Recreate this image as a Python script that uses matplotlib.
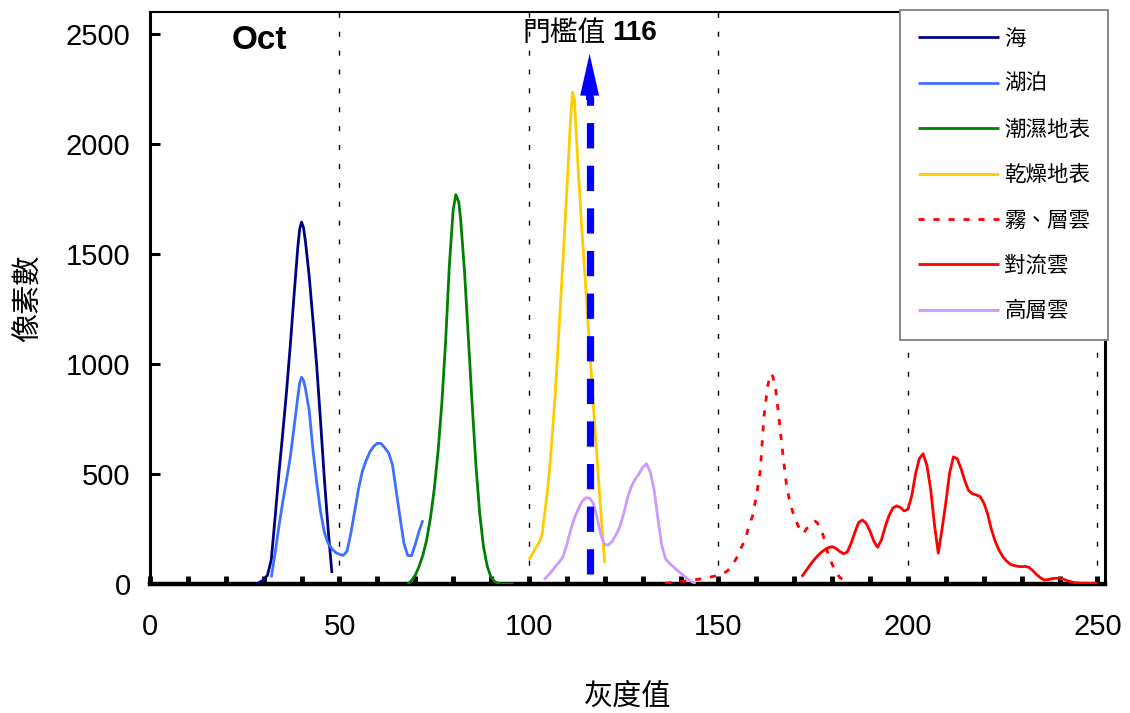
import matplotlib
matplotlib.use("Agg")
import matplotlib.pyplot as plt

plt.rcParams['font.family'] = ['Liberation Sans', 'Noto Sans CJK TC', 'DejaVu Sans']

# ---------------- data ----------------
sea_x = [28, 29, 30, 31, 32, 33, 34, 35, 36, 37, 38, 39, 39.5, 40, 40.5, 41, 42, 43, 44, 45, 46, 47, 48]
sea_y = [0, 8, 20, 40, 110, 300, 500, 680, 870, 1080, 1310, 1530, 1615, 1645, 1620, 1560, 1400, 1200, 990, 740, 480, 250, 50]

lake_x = [32, 33, 34, 35, 36, 37, 38, 39, 39.5, 40, 40.5, 41, 42, 43, 44, 45, 46, 47, 48, 49, 50, 51, 52,
          53, 54, 55, 56, 57, 58, 59, 60, 61, 62, 63, 64, 65, 66, 67, 68, 69, 70, 71, 72]
lake_y = [30, 140, 260, 370, 470, 575, 710, 850, 915, 940, 925, 890, 790, 610, 460, 330, 235, 185, 160, 143, 135, 130, 150,
          230, 330, 430, 510, 560, 600, 625, 640, 638, 618, 595, 540, 420, 300, 185, 130, 128, 180, 240, 290]

wet_x = [68, 69, 70, 71, 72, 73, 74, 75, 76, 77, 78, 79, 80, 80.7, 81.5, 82, 83, 84, 85, 86, 87, 88, 89, 90, 91, 92, 93, 96]
wet_y = [0, 15, 40, 80, 130, 200, 300, 430, 600, 820, 1100, 1450, 1700, 1770, 1735, 1650, 1420, 1120, 820, 540, 320, 170, 80, 30, 10, 2, 0, 0]

dry_x = [100, 101, 102, 103, 103.5, 104, 105, 106, 107, 108, 109, 110, 111, 111.5, 112, 113, 114, 115, 116, 117, 118, 119, 120]
dry_y = [110, 140, 170, 200, 230, 300, 440, 640, 880, 1180, 1480, 1790, 2120, 2236, 2200, 1880, 1600, 1340, 1080, 810, 560, 320, 94]

fog_x = [136, 138, 140, 142, 144, 146, 148, 150, 151, 152, 153, 154, 155, 156, 157, 158, 159, 160, 161, 162, 163, 163.7,
         164.3, 165, 166, 167, 168, 169, 170, 171, 172, 172.5, 173, 174, 175, 175.5, 176, 177, 178, 179, 180, 181, 182, 183]
fog_y = [3, 8, 12, 15, 20, 25, 32, 40, 48, 55, 70, 95, 125, 165, 200, 260, 310, 400, 510, 760, 900, 956,
         945, 900, 750, 590, 443, 360, 306, 265, 235, 230, 245, 268, 283, 285, 280, 254, 200, 130, 90, 55, 30, 18]

conv_x = list(range(172, 245)) + [246, 250]
conv_y = [33, 58, 82, 105, 125, 142, 155, 165, 170, 162, 148, 138, 145, 185, 235, 280, 291, 275, 240, 195, 167,
          200, 260, 310, 345, 355, 348, 332, 340, 400, 500, 570, 592, 540, 430, 270, 140, 250, 370, 505, 578, 570,
          525, 470, 425, 410, 405, 398, 370, 320, 250, 195, 155, 125, 105, 90, 84, 80, 79, 80, 75, 60, 42, 28, 18,
          20, 24, 26, 26, 22, 15, 10, 6, 3, 3]

high_x = list(range(104, 145))
high_y = [20, 38, 58, 80, 100, 124, 180, 245, 300, 340, 375, 392, 390, 366, 300, 220, 178, 178, 195, 225, 261,
          320, 390, 443, 475, 500, 530, 546, 510, 430, 300, 180, 115, 95, 80, 64, 50, 35, 22, 10, 3]

series_names = ['海', '湖泊', '潮濕地表', '乾燥地表', '霧、層雲', '對流雲', '高層雲']
series_colors = ['#000080', '#3F6FFF', '#008000', '#FFCC00', '#FF0000', '#FF0000', '#CC99FF']

threshold = 116
threshold_label = '門檻值'
arrow_base = 45
arrow_top = 2410
arrow_head_len = 190

x_ticks = [0, 50, 100, 150, 200, 250]
x_minor = list(range(10, 251, 10))
y_ticks = [0, 500, 1000, 1500, 2000, 2500]

# ---------------- figure ----------------
fig = plt.figure(figsize=(11.3, 7.13), dpi=100)
ax = fig.add_axes([150/1130, 1-584/713, (1105-150)/1130, (584-12)/713])
ax.set_xlim(0, 252)
ax.set_ylim(0, 2600)

# vertical dashed gridlines
for gx in x_ticks[1:]:
    ax.axvline(gx, color='black', lw=1.0, dashes=(3.6, 10), zorder=1)

datasets = [(sea_x, sea_y), (lake_x, lake_y), (wet_x, wet_y), (dry_x, dry_y),
            (fog_x, fog_y), (conv_x, conv_y), (high_x, high_y)]
handles = []
for i, ((xs, ys), name, col) in enumerate(zip(datasets, series_names, series_colors)):
    if name == '霧、層雲':
        h, = ax.plot(xs, ys, color=col, lw=2.0, linestyle=(0, (2.2, 3.2)), label=name, zorder=3)
    else:
        h, = ax.plot(xs, ys, color=col, lw=2.0, label=name, zorder=3,
                     solid_joinstyle='round', solid_capstyle='butt')
    handles.append(h)

# threshold arrow
ax.plot([threshold, threshold], [arrow_base, arrow_top - arrow_head_len], color='#0000FF',
        lw=5.2, linestyle=(0, (3.5, 2.4)), solid_capstyle='butt', zorder=5)
ax.arrow(threshold, arrow_top - arrow_head_len - 20, 0, arrow_head_len + 20, width=1.9,
         head_width=5.0, head_length=arrow_head_len, length_includes_head=True,
         color='#0000FF', lw=0, zorder=6)

ax.text(threshold + 4.3, 2506, threshold_label, ha='right', va='center', fontsize=20,
        family=['Noto Sans CJK TC'], zorder=7)
ax.text(threshold + 6.0, 2506, str(threshold), ha='left', va='center', fontsize=20,
        fontweight='bold', family=['Liberation Sans'], zorder=7)

ax.text(28.8, 2470, 'Oct', ha='center', va='center', fontsize=24, fontweight='bold',
        family=['Liberation Sans'])

# axes styling
ax.set_xticks(x_ticks)
ax.set_xticks(x_minor, minor=True)
ax.set_yticks(y_ticks)
ax.tick_params(axis='x', which='both', direction='in', length=6, width=3.5, pad=21,
               labelsize=21, colors='black')
ax.tick_params(axis='y', which='major', direction='in', length=7, width=2.2, pad=14,
               labelsize=21)
ax.spines['bottom'].set_linewidth(3.2)
ax.spines['left'].set_linewidth(2.2)
ax.spines['top'].set_linewidth(1.5)
ax.spines['right'].set_linewidth(2.2)
for lab in ax.get_xticklabels() + ax.get_yticklabels():
    lab.set_family(['Liberation Sans'])

ax.set_xlabel('灰度值', fontsize=21, family=['Noto Sans CJK TC'], labelpad=29)
ax.set_ylabel('像素數', fontsize=21, family=['Noto Sans CJK TC'], labelpad=16)

leg = ax.legend(handles=handles, loc='upper right', bbox_to_anchor=(1108/1130, 1-10/713),
                bbox_transform=fig.transFigure, borderaxespad=0, fancybox=False,
                edgecolor='#808080', framealpha=1, prop={'family': 'Noto Sans CJK TC', 'size': 15.5},
                handlelength=3.76, handletextpad=0.25, labelspacing=1.09, borderpad=0.82)
leg.get_frame().set_linewidth(1.3)
leg.set_zorder(10)

fig.savefig('out.png', dpi=100)
